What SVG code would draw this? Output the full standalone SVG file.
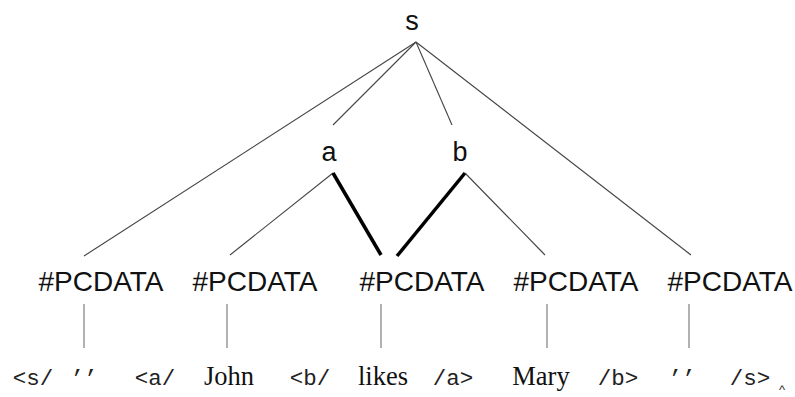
<svg xmlns="http://www.w3.org/2000/svg" width="795" height="397" viewBox="0 0 795 397">
<style>
.lbl{font-family:"Liberation Sans",Arial,sans-serif;font-size:27px;fill:#111;text-anchor:middle}
.pc{font-size:28px}
.tt{font-family:"Liberation Mono","Courier New",monospace;font-size:22.5px;fill:#222;text-anchor:middle}
.rm{font-family:"Liberation Serif","Times New Roman",serif;font-size:26.5px;fill:#111;text-anchor:middle}
.thin{stroke:#444;stroke-width:1.1;fill:none}
.vert{stroke:#888;stroke-width:1.3;fill:none}
.thick{stroke:#000;stroke-width:3.5;fill:none}
</style>
<rect width="795" height="397" fill="#fff"/>
<g id="connectors">
<line class="thin" x1="416" y1="42" x2="84" y2="256"/>
<line class="thin" x1="416" y1="42" x2="333" y2="125"/>
<line class="thin" x1="416" y1="42" x2="452" y2="125"/>
<line class="thin" x1="416" y1="42" x2="691" y2="255"/>
<line class="thin" x1="333" y1="173" x2="230" y2="255"/>
<line class="thick" x1="333" y1="173" x2="381" y2="255"/>
<line class="thick" x1="465" y1="173" x2="397" y2="256"/>
<line class="thin" x1="465" y1="173" x2="545" y2="255"/>
<line class="vert" x1="84" y1="304" x2="84" y2="348"/>
<line class="vert" x1="227" y1="304" x2="227" y2="348"/>
<line class="vert" x1="381" y1="304" x2="381" y2="348"/>
<line class="vert" x1="547" y1="304" x2="547" y2="348"/>
<line class="vert" x1="689" y1="304" x2="689" y2="348"/>
</g>
<g id="node-s"><text class="lbl" x="412" y="30">s</text></g>
<g id="node-a"><text class="lbl" x="329" y="161">a</text></g>
<g id="node-b"><text class="lbl" x="460" y="161">b</text></g>
<g id="pcdata-1"><text class="lbl pc" x="101" y="291">#PCDATA</text></g>
<g id="pcdata-2"><text class="lbl pc" x="255" y="291">#PCDATA</text></g>
<g id="pcdata-3"><text class="lbl pc" x="422" y="291">#PCDATA</text></g>
<g id="pcdata-4"><text class="lbl pc" x="576" y="291">#PCDATA</text></g>
<g id="pcdata-5"><text class="lbl pc" x="730" y="291">#PCDATA</text></g>
<g id="tokens">
<text class="tt" x="33" y="385">&lt;s/</text>
<text class="tt" x="84" y="385">’’</text>
<text class="tt" x="155" y="385">&lt;a/</text>
<text class="rm" x="229" y="385">John</text>
<text class="tt" x="310" y="385">&lt;b/</text>
<text class="rm" x="383" y="385">likes</text>
<text class="tt" x="453" y="385">/a&gt;</text>
<text class="rm" x="541" y="385">Mary</text>
<text class="tt" x="618" y="385">/b&gt;</text>
<text class="tt" x="682" y="385">’’</text>
<text class="tt" x="750" y="385">/s&gt;</text>
<text x="782" y="394" style="font-family:'Liberation Sans',sans-serif;font-size:13px;fill:#333;text-anchor:middle">^</text>
</g>
</svg>
